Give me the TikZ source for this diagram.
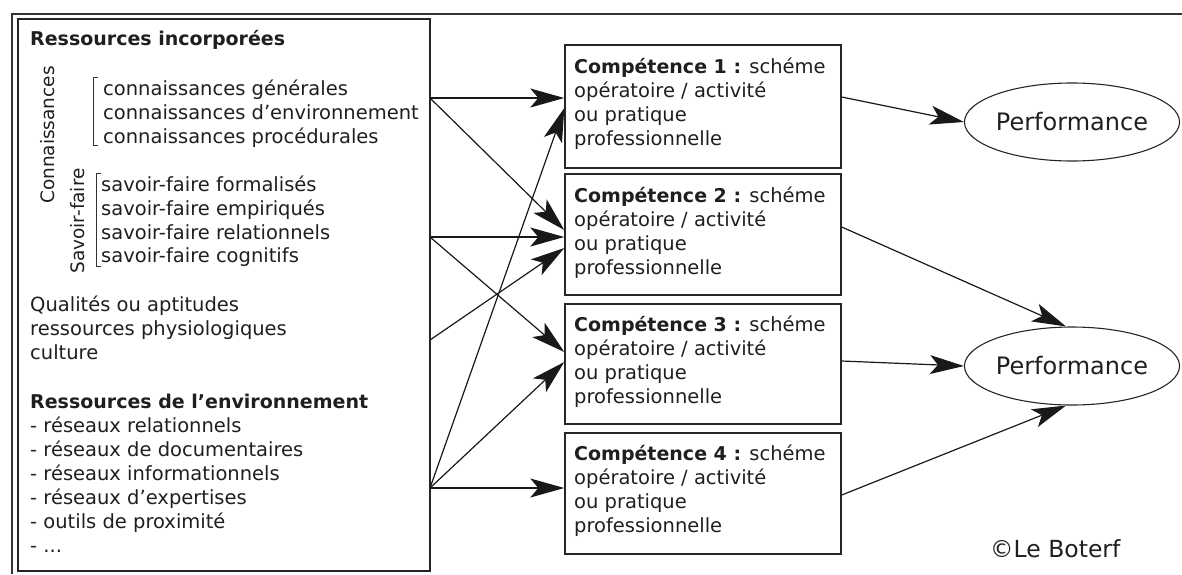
\documentclass[tikz,border=0pt]{standalone}
\usepackage{fontspec}
\setmainfont{DejaVu Sans}
\usetikzlibrary{arrows.meta,shapes.geometric,calc}
\begin{document}
\begin{tikzpicture}[x=1pt,y=-1pt,
  txt/.style={anchor=base west, inner sep=0pt, text=black!88, font=\fontsize{19.5}{24}\selectfont},
  boldtxt/.style={txt, font=\fontsize{19}{24}\selectfont\bfseries},
  rtxt/.style={inner sep=0pt, rotate=90, text=black!88, font=\fontsize{18.5}{22}\selectfont},
  framebox/.style={draw=black!85, line width=1.4pt, rectangle, inner sep=0pt},
  perf/.style={draw=black!85, ellipse, line width=1.1pt, minimum width=208pt, minimum height=78pt, inner sep=0pt, text=black!88, font=\fontsize{24}{28}\selectfont},
  conn/.style={draw=black!90, line width=1.2pt, -{Stealth[length=34pt,width=19pt,inset=8pt]}},
  brack/.style={draw=black!80, line width=0.9pt}]
\useasboundingbox (0,0) rectangle (1182,574);
% outer frame (cropped)
\draw[black!80, line width=1.3pt] (12,574) -- (12,14) -- (1182,14);

% left resources box
\node[framebox, minimum width=412pt, minimum height=552pt] (res) at (224,295) {};

\node[boldtxt] (ri) at (30,45) {Ressources incorporées};
\node[rtxt] (conn) at (48,135) {Connaissances};
\node[rtxt] (sf) at (78,221) {Savoir-faire};

\draw[brack] (98,77) -- (93,77) -- (93,145) -- (98,145);
\draw[brack] (101,173) -- (96,173) -- (96,266) -- (101,266);

\node[txt] (k1) at (103,95) {connaissances générales};
\node[txt] (k2) at (103,119) {connaissances d’environnement};
\node[txt] (k3) at (103,143) {connaissances procédurales};

\node[txt] (f1) at (101,191) {savoir-faire formalisés};
\node[txt] (f2) at (101,215) {savoir-faire empiriqués};
\node[txt] (f3) at (101,239) {savoir-faire relationnels};
\node[txt] (f4) at (101,262) {savoir-faire cognitifs};

\node[txt] (q1) at (30,311) {Qualités ou aptitudes};
\node[txt] (q2) at (30,335) {ressources physiologiques};
\node[txt] (q3) at (30,359) {culture};

\node[boldtxt] (re) at (30,408) {Ressources de l’environnement};
\node[txt] (r1) at (30,432) {- réseaux relationnels};
\node[txt] (r2) at (30,456) {- réseaux de documentaires};
\node[txt] (r3) at (30,480) {- réseaux informationnels};
\node[txt] (r4) at (30,504) {- réseaux d’expertises};
\node[txt] (r5) at (30,528) {- outils de proximité};
\node[txt] (r6) at (30,552) {- ...};

% competence boxes
\node[framebox, minimum width=276pt, minimum height=123pt] (c1) at (703,106.5) {};
\node[framebox, minimum width=276pt, minimum height=121pt] (c2) at (703,234.5) {};
\node[framebox, minimum width=276pt, minimum height=120pt] (c3) at (703,364) {};
\node[framebox, minimum width=276pt, minimum height=121pt] (c4) at (703,493.5) {};

\foreach \i/\y in {1/73,2/202,3/331,4/460}{
  \node[txt] (c\i l1) at (574,\y) {{\fontsize{19}{24}\selectfont\bfseries Compétence \i\ :} schéme};
  \node[txt] (c\i l2) at (574,\y+24) {opératoire / activité};
  \node[txt] (c\i l3) at (574,\y+48) {ou pratique};
  \node[txt] (c\i l4) at (574,\y+72) {professionnelle};
}

% performance ellipses
\node[perf] (e1) at (1072,122) {Performance};
\node[perf] (e2) at (1072,366) {Performance};

\node[txt, font=\fontsize{23.5}{26}\selectfont] (cr) at (990,557) {©Le Boterf};

% source points on the resources box
\coordinate (s1) at (430,98);
\coordinate (s2) at (430,237);
\coordinate (s4) at (430,340);
\coordinate (s3) at (430,488);

\draw[conn] (s1) -- (s1 -| c1.west);
\draw[conn] (s1) -- ([yshift=4.5pt]c2.west);
\draw[conn] (s2) -- (s2 -| c2.west);
\draw[conn] (s2) -- ([yshift=12pt]c3.west);
\draw[conn] (s4) -- ([yshift=-13.5pt]c2.west);
\draw[conn] (s3) -- ([yshift=-1.5pt]c1.west);
\draw[conn] (s3) -- ([yshift=2pt]c3.west);
\draw[conn] (s3) -- (s3 -| c4.west);

\draw[conn] ([yshift=9.5pt]c1.east) -- (e1.west);
\draw[conn] ([yshift=7.5pt]c2.east) -- ([xshift=-6pt]e2.north);
\draw[conn] ([yshift=3pt]c3.east) -- (e2.west);
\draw[conn] ([yshift=-1.5pt]c4.east) -- ([xshift=-6pt]e2.south);
\end{tikzpicture}
\end{document}
